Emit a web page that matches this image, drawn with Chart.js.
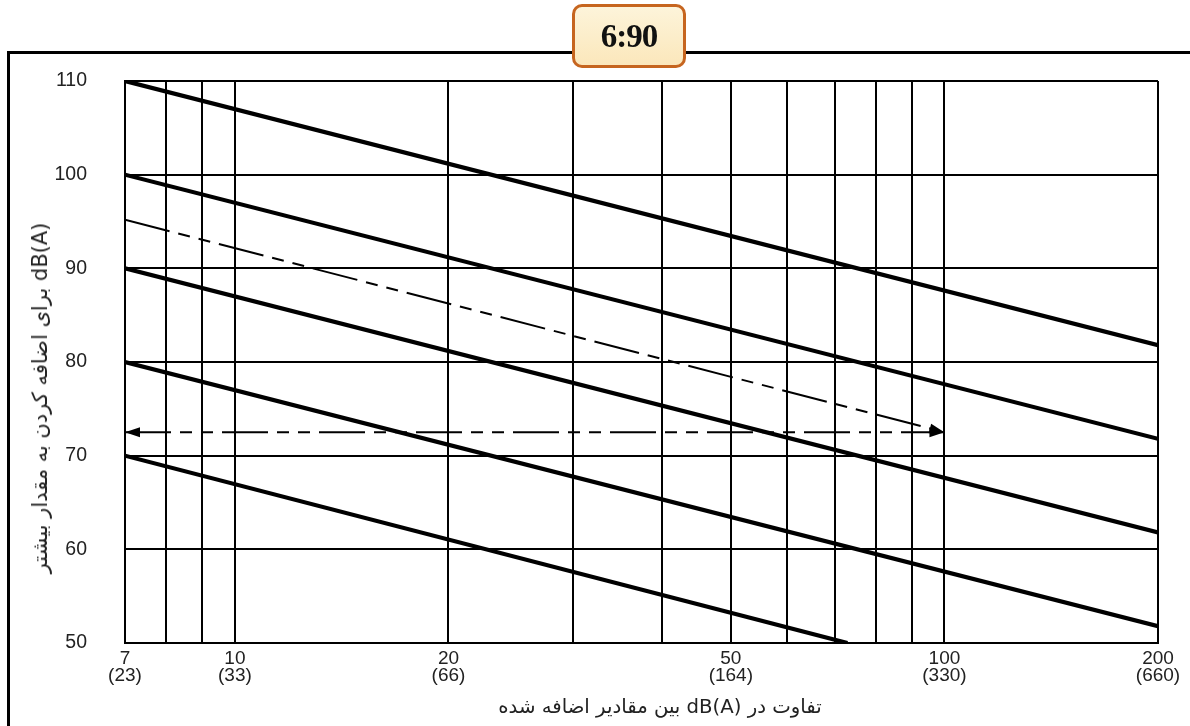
<!DOCTYPE html>
<html>
<head>
<meta charset="utf-8">
<script src="https://cdn.jsdelivr.net/npm/chart.js@4.4.1/dist/chart.umd.min.js"></script>
<style>
  html, body { margin: 0; padding: 0; background: #fff; }
  #wrap { position: relative; width: 1190px; height: 726px; overflow: hidden; background: #fff; }
  #frame { position: absolute; left: 7px; top: 51px; width: 1200px; height: 700px;
           border-left: 3px solid #000; border-top: 3px solid #000; box-sizing: border-box; }
  #cv { position: absolute; left: 0; top: 0; }
  #badge { position: absolute; left: 572px; top: 4px; width: 114px; height: 64px; box-sizing: border-box;
           border: 3px solid #c6651f; border-radius: 10px;
           background: linear-gradient(#fdf4da, #fbe7bb);
           font-family: "Liberation Serif", serif; font-weight: bold; font-size: 33px; color: #111;
           display: flex; align-items: center; justify-content: center; letter-spacing: -1px; }
  .ttl { position: absolute; font-family: "DejaVu Sans", sans-serif; color: #222; white-space: nowrap; direction: rtl; }
  #ytitle { left: 40px; top: 398px; font-size: 21px; transform: translate(-50%, -50%) rotate(-90deg); }
  #xtitle { left: 660px; top: 706px; font-size: 19.7px; transform: translate(-50%, -50%); }
</style>
</head>
<body>
<div id="wrap">
  <div id="frame"></div>
  <canvas id="cv" width="1190" height="726"></canvas>
  <div id="badge">6:90</div>
  <div id="ytitle" class="ttl" dir="rtl"><bdi dir="ltr">dB(A)</bdi> برای اضافه کردن به مقدار بیشتر</div>
  <div id="xtitle" class="ttl" dir="rtl">تفاوت در <bdi dir="ltr">dB(A)</bdi> بین مقادیر اضافه شده</div>
</div>
<script>
// ---- data ----
const xGrid = [7, 8, 9, 10, 20, 30, 40, 50, 60, 70, 80, 90, 100, 200];
const xLabelValues = [7, 10, 20, 50, 100, 200];
const xLabelSecond = ['(23)', '(33)', '(66)', '(164)', '(330)', '(660)'];
const yMin = 50, yMax = 110, yStep = 10;

const line110X = [7, 200], line110Y = [110, 81.8];
const line100X = [7, 200], line100Y = [100, 71.8];
const line90X  = [7, 200], line90Y  = [90, 61.8];
const line80X  = [7, 200], line80Y  = [80, 51.8];
const line70X  = [7, 73],  line70Y  = [70, 50];
const diagX = [7, 100], diagY = [95.2, 72.5];
const horizX = [7, 100], horizY = [72.5, 72.5];

function pts(xs, ys) { return xs.map((x, i) => ({ x: x, y: ys[i] })); }

const dashPat = [46, 9, 12, 9, 12, 9];

function solid(xs, ys) {
  return { data: pts(xs, ys), borderColor: '#000', borderWidth: 4.2, showLine: true,
           pointRadius: 0, fill: false, tension: 0, borderCapStyle: 'butt' };
}

const arrowPlugin = {
  id: 'arrows',
  afterDatasetsDraw(chart) {
    const ctx = chart.ctx, xs = chart.scales.x, ys = chart.scales.y;
    function head(x1, y1, x2, y2) {
      const px1 = xs.getPixelForValue(x1), py1 = ys.getPixelForValue(y1);
      const px2 = xs.getPixelForValue(x2), py2 = ys.getPixelForValue(y2);
      const a = Math.atan2(py2 - py1, px2 - px1);
      const L = 15, W = 5;
      ctx.save();
      ctx.fillStyle = '#000';
      ctx.beginPath();
      ctx.moveTo(px2, py2);
      ctx.lineTo(px2 - L * Math.cos(a) + W * Math.sin(a), py2 - L * Math.sin(a) - W * Math.cos(a));
      ctx.lineTo(px2 - L * Math.cos(a) - W * Math.sin(a), py2 - L * Math.sin(a) + W * Math.cos(a));
      ctx.closePath();
      ctx.fill();
      ctx.restore();
    }
    head(horizX[1], horizY[1], horizX[0], horizY[0]);
    head(horizX[0], horizY[0], horizX[1], horizY[1]);
    head(diagX[0], diagY[0], diagX[1], diagY[1]);
  }
};

new Chart(document.getElementById('cv'), {
  type: 'scatter',
  data: {
    datasets: [
      solid(line110X, line110Y),
      solid(line100X, line100Y),
      solid(line90X, line90Y),
      solid(line80X, line80Y),
      solid(line70X, line70Y),
      { data: pts(diagX, diagY), borderColor: '#000', borderWidth: 2, borderDash: dashPat,
        showLine: true, pointRadius: 0, fill: false },
      { data: pts(horizX, horizY), borderColor: '#000', borderWidth: 2, borderDash: dashPat,
        showLine: true, pointRadius: 0, fill: false }
    ]
  },
  options: {
    responsive: false,
    animation: false,
    layout: { padding: { top: 81, right: 32, left: 0, bottom: 0 } },
    plugins: { legend: { display: false }, tooltip: { enabled: false } },
    scales: {
      x: {
        type: 'logarithmic', min: 7, max: 200,
        afterBuildTicks(scale) { scale.ticks = xGrid.map(v => ({ value: v })); },
        afterFit(scale) { scale.height = 83; },
        grid: { color: '#000', lineWidth: 2, drawTicks: false },
        border: { display: true, color: '#000', width: 2 },
        ticks: {
          autoSkip: false, maxRotation: 0, minRotation: 0, padding: 7,
          color: '#222', font: { family: 'Liberation Sans', size: 19, lineHeight: 0.92 },
          callback(value) {
            const i = xLabelValues.indexOf(value);
            return i >= 0 ? [String(xLabelValues[i]), xLabelSecond[i]] : '';
          }
        }
      },
      y: {
        min: yMin, max: yMax,
        afterFit(scale) { scale.width = 125; },
        grid: { color: '#000', lineWidth: 2, drawTicks: false },
        border: { display: true, color: '#000', width: 2 },
        ticks: { stepSize: yStep, padding: 38, color: '#222',
                 font: { family: 'Liberation Sans', size: 19.5 } }
      }
    }
  },
  plugins: [arrowPlugin]
});
</script>
</body>
</html>
